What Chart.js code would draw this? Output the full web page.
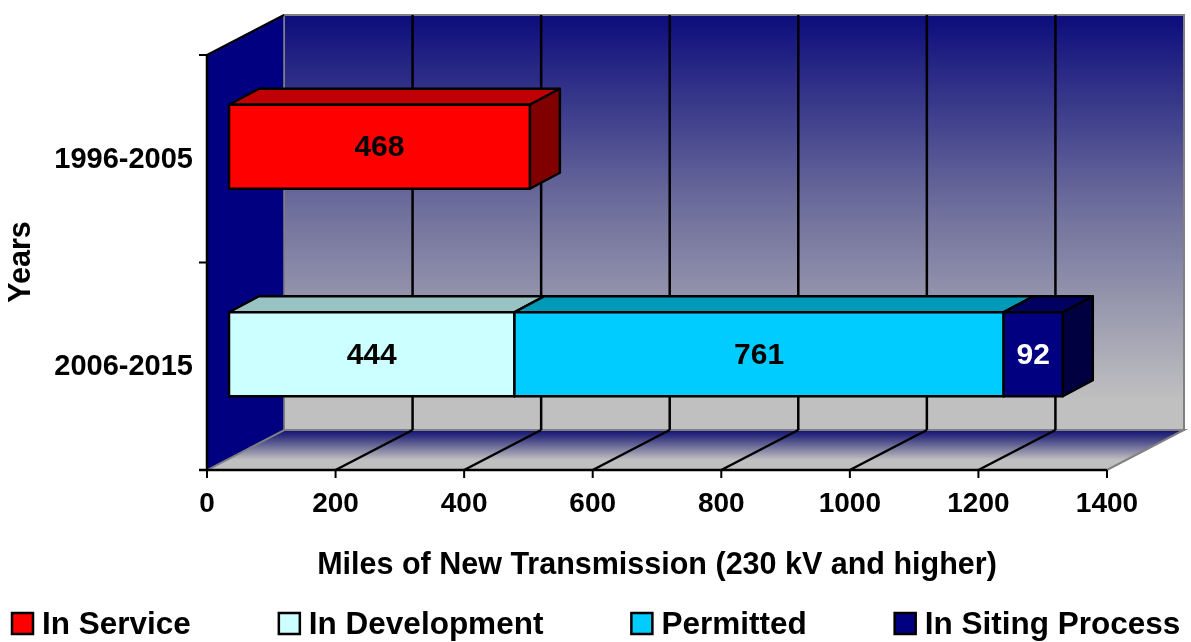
<!DOCTYPE html>
<html>
<head>
<meta charset="utf-8">
<script src="https://cdn.jsdelivr.net/npm/chart.js@4.4.0/dist/chart.umd.min.js"></script>
<style>
  html, body { margin: 0; padding: 0; background: #fff; }
  #wrap { width: 1191px; height: 642px; position: relative; }
</style>
</head>
<body>
<div id="wrap"><canvas id="grafik"></canvas></div>
<script>
// data
const categories = ["1996-2005", "2006-2015"];
const inService = [468, null];
const inDevelopment = [null, 444];
const permitted = [null, 761];
const inSiting = [null, 92];
const xTicks = [0, 200, 400, 600, 800, 1000, 1200, 1400];
const seriesNames = ["In Service", "In Development", "Permitted", "In Siting Process"];

// colours: front, top, side, label
const warna = [
    { front: "#ff0000", top: "#c00000", side: "#800000", label: "#000" },
    { front: "#ccffff", top: "#99c2c2", side: "#669999", label: "#000" },
    { front: "#00ccff", top: "#0099b8", side: "#006680", label: "#000" },
    { front: "#000080", top: "#000060", side: "#000040", label: "#fff" }
];

const FONT = "'Liberation Sans', Arial, sans-serif";
const WALL_DX = 77, WALL_DY = -40;   // depth of the box
const BAR_SX = 22, BAR_SY = -12;     // bar front offset inside box
const BAR_DX = 30, BAR_DY = -16;     // bar depth

function poly(ctx, pts, fill, stroke, lw) {
    ctx.beginPath();
    ctx.moveTo(pts[0][0], pts[0][1]);
    for (let i = 1; i < pts.length; i++) ctx.lineTo(pts[i][0], pts[i][1]);
    ctx.closePath();
    if (fill) { ctx.fillStyle = fill; ctx.fill(); }
    if (stroke) { ctx.strokeStyle = stroke; ctx.lineWidth = lw || 1; ctx.stroke(); }
}

const scene3d = {
    id: "scene3d",
    beforeDatasetsDraw(chart) {
        const ctx = chart.ctx;
        const a = chart.chartArea;
        const xs = chart.scales.x;
        const L = a.left, R = a.right, T = a.top, B = a.bottom;
        ctx.save();

        // back wall
        const bg = ctx.createLinearGradient(0, T + WALL_DY, 0, B + WALL_DY - 30);
        bg.addColorStop(0, "#0c0c7c");
        bg.addColorStop(0.5, "#6e6e9c");
        bg.addColorStop(1, "#c0c0c0");
        poly(ctx, [[L + WALL_DX, T + WALL_DY], [R + WALL_DX, T + WALL_DY], [R + WALL_DX, B + WALL_DY], [L + WALL_DX, B + WALL_DY]], bg, "#808080", 2);

        // floor
        const fg = ctx.createLinearGradient(0, B + WALL_DY, 0, B);
        fg.addColorStop(0, "#101078");
        fg.addColorStop(0.15, "#30307e");
        fg.addColorStop(0.75, "#c0c0c0");
        fg.addColorStop(1, "#c0c0c0");
        poly(ctx, [[L, B], [R, B], [R + WALL_DX, B + WALL_DY], [L + WALL_DX, B + WALL_DY]], fg, "#808080", 2);

        // left wall
        poly(ctx, [[L, T], [L + WALL_DX, T + WALL_DY], [L + WALL_DX, B + WALL_DY], [L, B]], "#000080", null);
        ctx.strokeStyle = "#808080";
        ctx.lineWidth = 1.5;
        ctx.beginPath();
        ctx.moveTo(L, B); ctx.lineTo(L + WALL_DX, B + WALL_DY);
        ctx.lineTo(L + WALL_DX, T + WALL_DY);
        ctx.stroke();
        ctx.strokeStyle = "#000";
        ctx.lineWidth = 2;
        ctx.beginPath();
        ctx.moveTo(L, T); ctx.lineTo(L + WALL_DX, T + WALL_DY);
        ctx.stroke();

        // grid lines on wall and floor
        ctx.strokeStyle = "#000";
        ctx.lineWidth = 2.5;
        xTicks.forEach(v => {
            if (v === xTicks[0] || v === xTicks[xTicks.length - 1]) return;
            const px = xs.getPixelForValue(v);
            ctx.beginPath();
            ctx.moveTo(px + WALL_DX, T + WALL_DY);
            ctx.lineTo(px + WALL_DX, B + WALL_DY);
            ctx.moveTo(px + WALL_DX, B + WALL_DY);
            ctx.lineTo(px, B);
            ctx.stroke();
        });
        ctx.restore();
    },
    afterDatasetsDraw(chart) {
        const ctx = chart.ctx;
        ctx.save();
        ctx.lineJoin = "round";
        chart.data.datasets.forEach((ds, i) => {
            const meta = chart.getDatasetMeta(i);
            meta.data.forEach((el, j) => {
                const v = ds.data[j];
                if (v === null || v === undefined) return;
                const p = el.getProps(["x", "y", "base", "height"], true);
                const x0 = Math.min(p.base, p.x) + BAR_SX;
                const x1 = Math.max(p.base, p.x) + BAR_SX;
                const yt = p.y - p.height / 2 + BAR_SY;
                const yb = p.y + p.height / 2 + BAR_SY;
                const c = warna[i];
                poly(ctx, [[x0, yt], [x0 + BAR_DX, yt + BAR_DY], [x1 + BAR_DX, yt + BAR_DY], [x1, yt]], c.top, "#000", 2.5);
                poly(ctx, [[x1, yt], [x1 + BAR_DX, yt + BAR_DY], [x1 + BAR_DX, yb + BAR_DY], [x1, yb]], c.side, "#000", 2.5);
                poly(ctx, [[x0, yt], [x1, yt], [x1, yb], [x0, yb]], c.front, "#000", 2.5);
                ctx.fillStyle = c.label;
                ctx.font = "bold 30px " + FONT;
                ctx.textAlign = "center";
                ctx.textBaseline = "middle";
                ctx.fillText(String(v), (x0 + x1) / 2, (yt + yb) / 2 + 1);
            });
        });
        ctx.restore();
    },
    afterDraw(chart) {
        const ctx = chart.ctx;
        const a = chart.chartArea;
        const xs = chart.scales.x;
        const ys = chart.scales.y;
        ctx.save();
        ctx.strokeStyle = "#000";
        ctx.lineWidth = 2.5;

        // axes
        ctx.beginPath();
        ctx.moveTo(a.left - 8, a.bottom); ctx.lineTo(a.right, a.bottom);
        ctx.moveTo(a.left, a.top); ctx.lineTo(a.left, a.bottom);
        ctx.stroke();
        ctx.lineWidth = 2;
        ctx.beginPath();
        xTicks.forEach(v => {
            const px = xs.getPixelForValue(v);
            ctx.moveTo(px, a.bottom); ctx.lineTo(px, a.bottom + 8);
        });
        const band = (ys.getPixelForValue(1) - ys.getPixelForValue(0));
        for (let k = 0; k <= categories.length; k++) {
            const py = ys.getPixelForValue(0) - band / 2 + k * band;
            ctx.moveTo(a.left - 8, py); ctx.lineTo(a.left, py);
        }
        ctx.stroke();

        // tick labels
        ctx.fillStyle = "#000";
        ctx.font = "bold 28px " + FONT;
        ctx.textAlign = "center";
        ctx.textBaseline = "middle";
        xTicks.forEach(v => ctx.fillText(String(v), xs.getPixelForValue(v), a.bottom + 34));
        ctx.font = "bold 29px " + FONT;
        ctx.textAlign = "right";
        categories.forEach((c, j) => ctx.fillText(c, a.left - 14, ys.getPixelForValue(j) + 1));

        // axis titles
        ctx.font = "bold 30.5px " + FONT;
        ctx.textAlign = "center";
        ctx.fillText("Miles of New Transmission (230 kV and higher)", 657, 566);
        ctx.save();
        ctx.translate(22, 262);
        ctx.rotate(-Math.PI / 2);
        ctx.fillText("Years", 0, 0);
        ctx.restore();

        // legend
        ctx.font = "bold 31.5px " + FONT;
        ctx.textAlign = "left";
        let lx = 12;
        seriesNames.forEach((nama, i) => {
            ctx.fillStyle = warna[i].front;
            ctx.fillRect(lx, 613, 21, 21);
            ctx.strokeStyle = "#000";
            ctx.lineWidth = 2.5;
            ctx.strokeRect(lx, 613, 21, 21);
            ctx.fillStyle = "#000";
            ctx.fillText(nama, lx + 30, 625);
            lx += 30 + ctx.measureText(nama).width + 88;
        });
        ctx.restore();
    }
};

const makeDs = (label, data) => ({
    label: label,
    data: data,
    backgroundColor: "rgba(0,0,0,0)",
    borderWidth: 0,
    barPercentage: 0.405,
    categoryPercentage: 1
});

new Chart(document.getElementById("grafik").getContext("2d"), {
    type: "bar",
    data: {
        labels: categories,
        datasets: [
            makeDs(seriesNames[0], inService),
            makeDs(seriesNames[1], inDevelopment),
            makeDs(seriesNames[2], permitted),
            makeDs(seriesNames[3], inSiting)
        ]
    },
    options: {
        indexAxis: "y",
        responsive: true,
        maintainAspectRatio: false,
        animation: false,
        layout: { padding: { left: 207, right: 84, top: 55, bottom: 172 } },
        scales: {
            x: { stacked: true, min: 0, max: 1400, display: false },
            y: { stacked: true, display: false }
        },
        plugins: {
            legend: { display: false },
            tooltip: { enabled: false }
        }
    },
    plugins: [scene3d]
});
</script>
</body>
</html>
